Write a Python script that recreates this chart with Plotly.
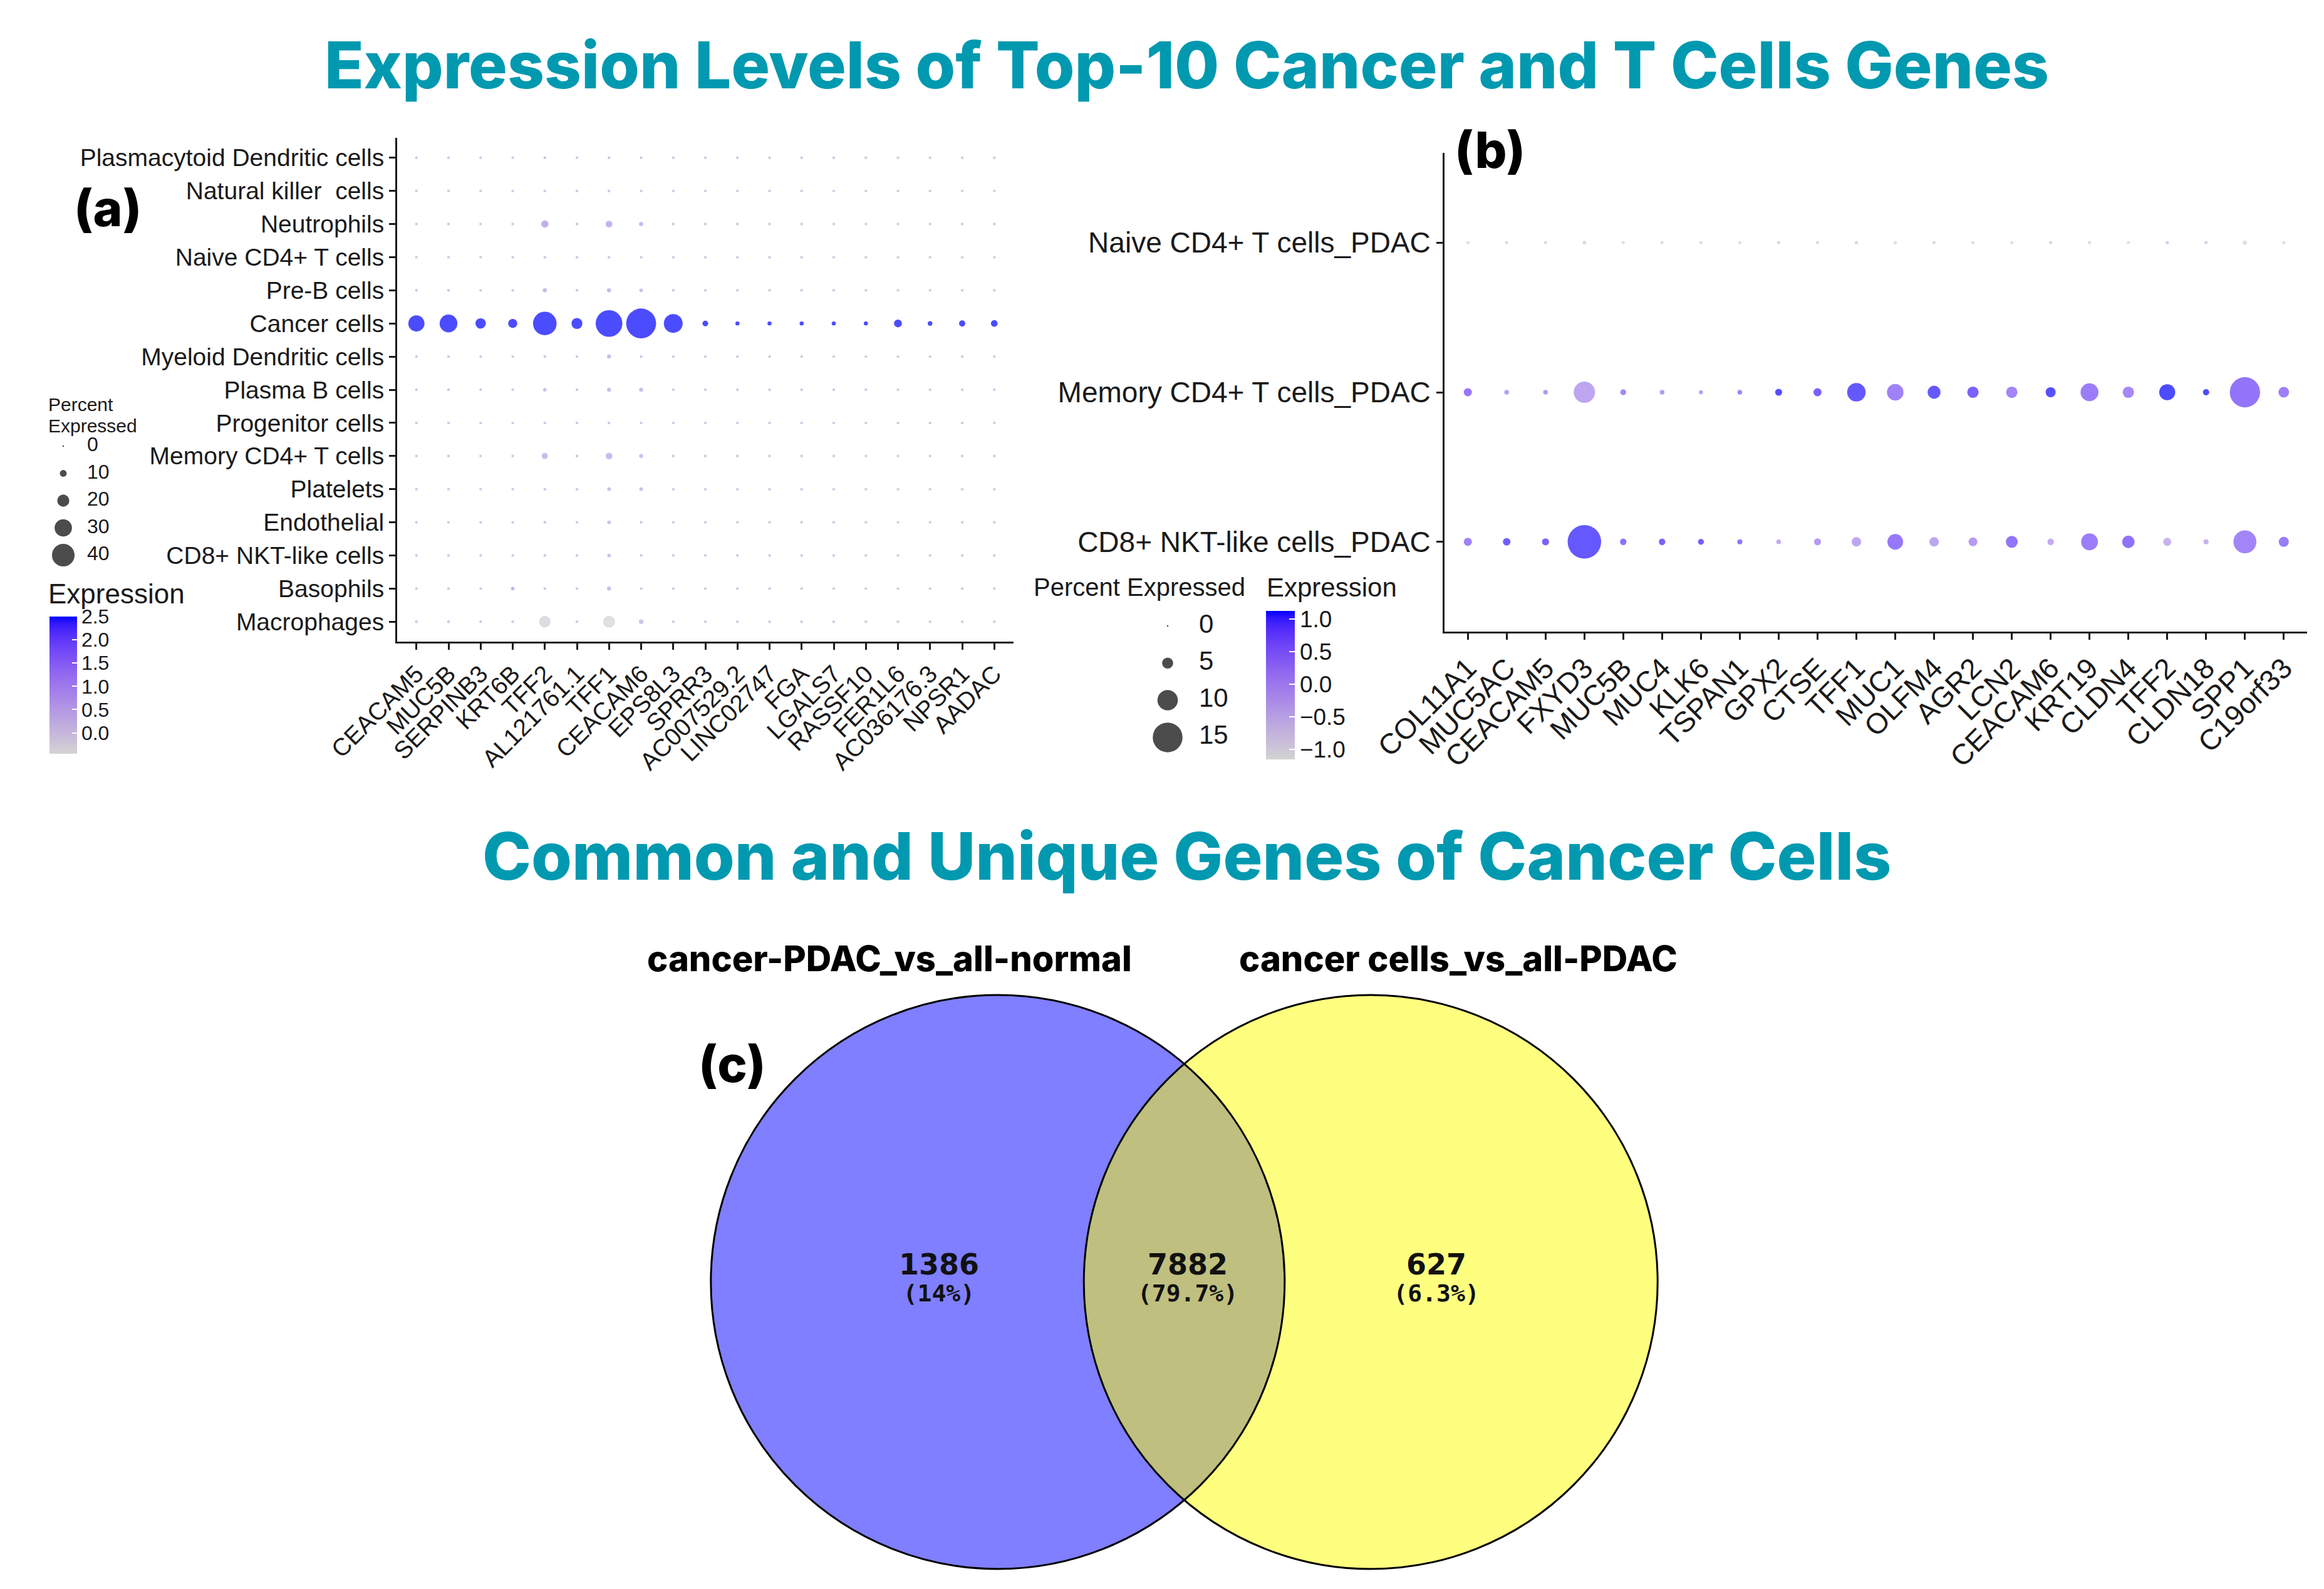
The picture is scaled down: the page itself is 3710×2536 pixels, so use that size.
import plotly.graph_objects as go

W, H = 3710, 2536

# ------------------------------------------------------------------ data
genes_a = ["CEACAM5", "MUC5B", "SERPINB3", "KRT6B", "TFF2", "AL121761.1", "TFF1",
           "CEACAM6", "EPS8L3", "SPRR3", "AC007529.2", "LINC02747", "FGA", "LGALS7",
           "RASSF10", "FER1L6", "AC036176.3", "NPSR1", "AADAC"]
cells_a = ["Plasmacytoid Dendritic cells", "Natural killer\u00a0 cells", "Neutrophils",
           "Naive CD4+ T cells", "Pre-B cells", "Cancer cells", "Myeloid Dendritic cells",
           "Plasma B cells", "Progenitor cells", "Memory CD4+ T cells", "Platelets",
           "Endothelial", "CD8+ NKT-like cells", "Basophils", "Macrophages"]

# percent expressed (rows follow cells_a, columns follow genes_a)
pct_a = [
    [0.4, 0.4, 0.4, 0.4, 0.6, 0.4, 0.6, 0.5, 0.4, 0.4, 0.4, 0.4, 0.4, 0.4, 0.4, 0.4, 0.4, 0.4, 0.4],
    [0.4, 0.4, 0.4, 0.4, 0.5, 0.4, 0.6, 0.4, 0.4, 0.4, 0.4, 0.4, 0.4, 0.4, 0.4, 0.4, 0.4, 0.4, 0.4],
    [0.5, 0.5, 0.4, 0.4, 9.0, 0.5, 8.0, 3.0, 0.5, 0.4, 0.4, 0.4, 0.4, 0.4, 0.4, 0.4, 0.4, 0.4, 0.4],
    [0.4, 0.4, 0.4, 0.4, 0.5, 0.4, 0.5, 0.4, 0.4, 0.4, 0.4, 0.4, 0.4, 0.4, 0.4, 0.4, 0.4, 0.4, 0.4],
    [0.5, 0.5, 0.4, 0.4, 3.0, 0.5, 3.0, 2.0, 0.5, 0.4, 0.4, 0.4, 0.4, 0.4, 0.4, 0.4, 0.4, 0.4, 0.4],
    [26.0, 29.0, 15.0, 12.5, 40.0, 16.0, 46.0, 52.0, 31.0, 6.0, 3.0, 3.0, 3.0, 3.0, 3.0, 10.0, 4.0, 7.0, 8.0],
    [0.4, 0.4, 0.4, 0.4, 0.6, 0.4, 3.0, 0.6, 0.4, 0.4, 0.4, 0.4, 0.4, 0.4, 0.4, 0.4, 0.4, 0.4, 0.4],
    [0.5, 0.5, 0.4, 0.4, 2.0, 0.5, 3.0, 3.0, 0.4, 0.4, 0.4, 0.4, 0.4, 0.4, 0.4, 0.4, 0.4, 0.4, 0.5],
    [0.4, 0.4, 0.4, 0.4, 0.5, 0.4, 0.6, 0.5, 0.4, 0.4, 0.4, 0.4, 0.4, 0.4, 0.4, 0.4, 0.4, 0.4, 0.4],
    [0.5, 0.5, 0.4, 0.4, 7.0, 0.5, 8.0, 3.0, 0.5, 0.4, 0.4, 0.4, 0.4, 0.4, 0.4, 0.4, 0.4, 0.4, 0.4],
    [0.4, 0.4, 0.4, 0.4, 0.6, 0.4, 2.0, 2.0, 0.4, 0.4, 0.4, 0.4, 0.4, 0.4, 0.4, 0.4, 0.4, 0.4, 0.4],
    [0.4, 0.4, 0.4, 0.4, 0.6, 0.4, 2.0, 0.6, 0.4, 0.4, 0.4, 0.4, 0.4, 0.4, 0.4, 0.4, 0.4, 0.4, 0.4],
    [0.4, 0.4, 0.4, 0.4, 0.6, 0.4, 2.0, 0.6, 0.4, 0.4, 0.4, 0.4, 0.4, 0.4, 0.4, 0.4, 0.4, 0.4, 0.4],
    [0.4, 0.4, 0.4, 2.0, 0.5, 0.4, 3.0, 0.5, 0.4, 0.4, 0.4, 0.4, 0.4, 0.4, 0.4, 0.4, 0.4, 0.4, 0.4],
    [1.0, 1.0, 0.4, 0.4, 17.0, 0.5, 18.0, 4.0, 0.4, 0.4, 0.4, 0.4, 0.4, 0.4, 0.4, 0.4, 0.4, 0.4, 0.4],
]
# scaled average expression
expr_a = [
    [0.08, 0.10, 0.10, 0.10, 0.15, 0.10, 0.15, 0.12, 0.10, 0.08, 0.10, 0.10, 0.10, 0.10, 0.08, 0.10, 0.10, 0.10, 0.08],
    [0.08, 0.10, 0.10, 0.10, 0.12, 0.10, 0.14, 0.10, 0.10, 0.08, 0.10, 0.10, 0.10, 0.10, 0.08, 0.10, 0.10, 0.10, 0.08],
    [0.15, 0.15, 0.10, 0.10, 0.70, 0.15, 0.60, 0.45, 0.15, 0.10, 0.10, 0.10, 0.10, 0.10, 0.10, 0.10, 0.10, 0.10, 0.10],
    [0.08, 0.10, 0.10, 0.10, 0.12, 0.10, 0.12, 0.10, 0.10, 0.08, 0.10, 0.10, 0.10, 0.10, 0.08, 0.10, 0.10, 0.10, 0.08],
    [0.15, 0.15, 0.10, 0.10, 0.45, 0.15, 0.45, 0.35, 0.15, 0.10, 0.10, 0.10, 0.10, 0.10, 0.10, 0.10, 0.10, 0.10, 0.10],
    [2.50, 2.50, 2.50, 2.50, 2.50, 2.50, 2.50, 2.50, 2.50, 2.50, 2.50, 2.50, 2.50, 2.50, 2.50, 2.50, 2.50, 2.50, 2.50],
    [0.10, 0.10, 0.10, 0.10, 0.15, 0.10, 0.35, 0.15, 0.10, 0.08, 0.10, 0.10, 0.10, 0.10, 0.08, 0.10, 0.10, 0.10, 0.08],
    [0.15, 0.15, 0.10, 0.10, 0.35, 0.15, 0.35, 0.35, 0.10, 0.10, 0.10, 0.10, 0.10, 0.10, 0.10, 0.10, 0.10, 0.10, 0.15],
    [0.08, 0.10, 0.10, 0.10, 0.14, 0.10, 0.15, 0.12, 0.10, 0.08, 0.10, 0.10, 0.10, 0.10, 0.08, 0.10, 0.10, 0.10, 0.08],
    [0.15, 0.15, 0.10, 0.10, 0.40, 0.15, 0.40, 0.30, 0.15, 0.10, 0.10, 0.10, 0.10, 0.10, 0.10, 0.10, 0.10, 0.10, 0.10],
    [0.10, 0.10, 0.10, 0.10, 0.15, 0.10, 0.30, 0.30, 0.10, 0.08, 0.10, 0.10, 0.10, 0.10, 0.08, 0.10, 0.10, 0.10, 0.08],
    [0.10, 0.10, 0.10, 0.10, 0.15, 0.10, 0.30, 0.15, 0.10, 0.08, 0.10, 0.10, 0.10, 0.10, 0.08, 0.10, 0.10, 0.10, 0.08],
    [0.10, 0.10, 0.10, 0.10, 0.15, 0.10, 0.30, 0.15, 0.10, 0.08, 0.10, 0.10, 0.10, 0.10, 0.08, 0.10, 0.10, 0.10, 0.08],
    [0.10, 0.10, 0.10, 0.55, 0.15, 0.10, 0.30, 0.15, 0.10, 0.08, 0.10, 0.10, 0.10, 0.10, 0.08, 0.10, 0.10, 0.10, 0.08],
    [0.05, 0.05, 0.10, 0.10, -0.35, 0.10, -0.45, 0.20, 0.10, 0.08, 0.10, 0.10, 0.10, 0.10, 0.08, 0.10, 0.10, 0.10, 0.08],
]

genes_b = ["COL11A1", "MUC5AC", "CEACAM5", "FXYD3", "MUC5B", "MUC4", "KLK6", "TSPAN1",
           "GPX2", "CTSE", "TFF1", "MUC1", "OLFM4", "AGR2", "LCN2", "CEACAM6", "KRT19",
           "CLDN4", "TFF2", "CLDN18", "SPP1", "C19orf33"]
cells_b = ["Naive CD4+ T cells_PDAC", "Memory CD4+ T cells_PDAC", "CD8+ NKT-like cells_PDAC"]
pct_b = [
    [0.4, 0.3, 0.3, 0.5, 0.3, 0.3, 0.3, 0.3, 0.3, 0.3, 0.4, 0.5, 0.3, 0.3, 0.4, 0.3, 0.5, 0.3, 0.4, 0.3, 0.9, 0.4],
    [3.0, 1.2, 1.2, 10.0, 1.8, 1.2, 0.8, 1.2, 2.4, 3.0, 8.5, 7.5, 5.6, 4.7, 4.7, 4.0, 8.2, 4.7, 7.2, 2.0, 14.8, 4.3],
    [3.0, 2.7, 2.4, 16.5, 2.1, 2.1, 1.8, 1.4, 1.2, 2.4, 3.7, 7.0, 3.7, 3.4, 5.0, 2.1, 7.6, 5.3, 3.0, 1.4, 10.9, 4.0],
]
expr_b = [
    [-1.150, -1.000, -1.040, -0.940, -1.135, -1.040, -1.000, -1.140, -0.854, -1.040, -0.940,
     -1.150, -0.940, -1.040, -1.146, -0.854, -1.155, -1.138, -0.771, -0.803, -1.140, -1.150],
    [0.650, 0.000, 0.090, -0.110, 0.385, 0.090, 0.000, 0.440, 1.100, 0.950, 1.050,
     0.500, 1.050, 0.950, 0.450, 1.100, 0.577, 0.400, 1.130, 1.120, 0.700, 0.550],
    [0.500, 1.000, 0.950, 1.050, 0.750, 0.950, 1.000, 0.700, -0.246, 0.090, -0.110,
     0.650, -0.110, 0.090, 0.696, -0.246, 0.577, 0.738, -0.359, -0.317, 0.440, 0.600],
]

size_breaks_a = [0, 10, 20, 30, 40]
size_breaks_b = [0, 5, 10, 15]
cbar_ticks_a = [0.0, 0.5, 1.0, 1.5, 2.0, 2.5]
cbar_ticks_b = [-1.0, -0.5, 0.0, 0.5, 1.0]

venn_sets = ["cancer-PDAC_vs_all-normal", "cancer cells_vs_all-PDAC"]
venn_counts = [1386, 7882, 627]
venn_pcts = ["14%", "79.7%", "6.3%"]

# ------------------------------------------------------------------ helpers
def px(x):
    return x / W


def py(y):
    return 1 - y / H


def _lin(c):
    c = c / 255.0
    return c / 12.92 if c <= 0.04045 else ((c + 0.055) / 1.055) ** 2.4


def _gam(c):
    c = 12.92 * c if c <= 0.0031308 else 1.055 * c ** (1 / 2.4) - 0.055
    return min(1.0, max(0.0, c))


def rgb2lab(rgb):
    r, g, b = (_lin(v) for v in rgb)
    X = (0.4124564 * r + 0.3575761 * g + 0.1804375 * b) / 0.95047
    Y = 0.2126729 * r + 0.7151522 * g + 0.0721750 * b
    Z = (0.0193339 * r + 0.1191920 * g + 0.9503041 * b) / 1.08883
    f = lambda t: t ** (1 / 3) if t > 0.008856 else 7.787 * t + 16 / 116
    return (116 * f(Y) - 16, 500 * (f(X) - f(Y)), 200 * (f(Y) - f(Z)))


def lab2rgb(lab):
    L, a, b = lab
    fy = (L + 16) / 116
    fx, fz = fy + a / 500, fy - b / 200
    finv = lambda t: t ** 3 if t ** 3 > 0.008856 else (t - 16 / 116) / 7.787
    X, Y, Z = 0.95047 * finv(fx), finv(fy), 1.08883 * finv(fz)
    r = 3.2404542 * X - 1.5371385 * Y - 0.4985314 * Z
    g = -0.9692660 * X + 1.8760108 * Y + 0.0415560 * Z
    bb = 0.0556434 * X - 0.2040259 * Y + 1.0572252 * Z
    return tuple(int(round(255 * _gam(v))) for v in (r, g, bb))


def lab_scale(low, high, n=21):
    l1, l2 = rgb2lab(low), rgb2lab(high)
    out = []
    for i in range(n):
        t = i / (n - 1)
        c = lab2rgb(tuple(l1[k] + (l2[k] - l1[k]) * t for k in range(3)))
        out.append([t, "rgb(%d,%d,%d)" % c])
    return out


CSCALE = lab_scale((211, 211, 211), (0, 0, 255))
AXFONT = "Liberation Sans, Arial, sans-serif"
TITLEFONT = "Inter, Lato, sans-serif"
TEAL = "#0099b0"
TXT = "#1a1a1a"


def size_a(p):
    return 4.0 + 0.84 * p


def size_b(p):
    return 4.0 + 3.0 * p


fig = go.Figure()

# ------------------------------------------------------------------ panel (a)
xa, ya, sa, ca = [], [], [], []
for i, cell in enumerate(cells_a):
    for j, gene in enumerate(genes_a):
        xa.append(gene)
        ya.append(cell)
        sa.append(size_a(pct_a[i][j]))
        ca.append(expr_a[i][j])
fig.add_trace(go.Scatter(x=xa, y=ya, mode="markers", xaxis="x", yaxis="y",
                         marker=dict(size=sa, color=ca, coloraxis="coloraxis",
                                     line=dict(width=0)),
                         showlegend=False, hoverinfo="skip", cliponaxis=False))

# ------------------------------------------------------------------ panel (b)
xb, yb, sb, cb = [], [], [], []
for i, cell in enumerate(cells_b):
    for j, gene in enumerate(genes_b):
        xb.append(gene)
        yb.append(cell)
        sb.append(size_b(pct_b[i][j]))
        cb.append(expr_b[i][j])
fig.add_trace(go.Scatter(x=xb, y=yb, mode="markers", xaxis="x2", yaxis="y2",
                         marker=dict(size=sb, color=cb, coloraxis="coloraxis2",
                                     line=dict(width=0)),
                         showlegend=False, hoverinfo="skip", cliponaxis=False))

# ------------------------------------------------------------------ size legends (pixel overlay axis)
leg_a_y0, leg_a_dy, leg_a_x, leg_a_tx = 704, 43.5, 93, 131
ys_a = [leg_a_y0 + k * leg_a_dy for k in range(len(size_breaks_a))]
fig.add_trace(go.Scatter(
    x=[leg_a_x] * len(size_breaks_a), y=ys_a, mode="markers",
    marker=dict(size=[size_a(v) - 1.5 for v in size_breaks_a], color="black", line=dict(width=0)),
    xaxis="x3", yaxis="y3", showlegend=False, hoverinfo="skip", cliponaxis=False))
fig.add_trace(go.Scatter(
    x=[leg_a_tx] * len(size_breaks_a), y=ys_a, mode="text",
    text=[str(v) for v in size_breaks_a], textposition="middle right",
    textfont=dict(family=AXFONT, size=32, color=TXT),
    xaxis="x3", yaxis="y3", showlegend=False, hoverinfo="skip", cliponaxis=False))

leg_b_y0, leg_b_dy, leg_b_x, leg_b_tx = 991, 59.3, 1856, 1906
ys_b = [leg_b_y0 + k * leg_b_dy for k in range(len(size_breaks_b))]
fig.add_trace(go.Scatter(
    x=[leg_b_x] * len(size_breaks_b), y=ys_b, mode="markers",
    marker=dict(size=[size_b(v) - 1.5 for v in size_breaks_b], color="black", line=dict(width=0)),
    xaxis="x3", yaxis="y3", showlegend=False, hoverinfo="skip", cliponaxis=False))
fig.add_trace(go.Scatter(
    x=[leg_b_tx] * len(size_breaks_b), y=ys_b, mode="text",
    text=[str(v) for v in size_breaks_b], textposition="middle right",
    textfont=dict(family=AXFONT, size=42, color=TXT),
    xaxis="x3", yaxis="y3", showlegend=False, hoverinfo="skip", cliponaxis=False))

# ------------------------------------------------------------------ Venn diagram (c)
VC_X, VC_Y, VR = 1882.5, 2038.0, 458.0   # pixel centre / radius unit
SEP = 1.30                                # centre distance in radius units
vx0, vx1, vy0, vy1 = 1000, 2765, 1560, 2530
fig.add_trace(go.Scatter(
    x=[-0.855, 0.012, 0.879], y=[0.052] * 3, mode="text",
    text=[str(v) for v in venn_counts],
    textfont=dict(family="DejaVu Sans, sans-serif", size=46, color="#111111", weight="bold"),
    xaxis="x4", yaxis="y4", showlegend=False, hoverinfo="skip"))
fig.add_trace(go.Scatter(
    x=[-0.855, 0.012, 0.879], y=[-0.048] * 3, mode="text",
    text=["(%s)" % v for v in venn_pcts],
    textfont=dict(family="DejaVu Sans Mono, monospace", size=38, color="#111111", weight="bold"),
    xaxis="x4", yaxis="y4", showlegend=False, hoverinfo="skip"))

shapes = [
    dict(type="circle", xref="x4", yref="y4", x0=-SEP / 2 - 1, x1=-SEP / 2 + 1, y0=-1, y1=1,
         fillcolor="rgba(0,0,255,0.5)", line=dict(width=0), layer="below"),
    dict(type="circle", xref="x4", yref="y4", x0=SEP / 2 - 1, x1=SEP / 2 + 1, y0=-1, y1=1,
         fillcolor="rgba(255,255,0,0.5)", line=dict(width=0), layer="below"),
    dict(type="circle", xref="x4", yref="y4", x0=-SEP / 2 - 1, x1=-SEP / 2 + 1, y0=-1, y1=1,
         fillcolor="rgba(0,0,0,0)", line=dict(width=3, color="black"), layer="below"),
    dict(type="circle", xref="x4", yref="y4", x0=SEP / 2 - 1, x1=SEP / 2 + 1, y0=-1, y1=1,
         fillcolor="rgba(0,0,0,0)", line=dict(width=3, color="black"), layer="below"),
]

# ------------------------------------------------------------------ annotations
def ann(text, x, y, size, family=AXFONT, color=TXT, xanchor="center",
        yanchor="middle", weight="normal"):
    return dict(text=text, x=px(x), y=py(y), xref="paper", yref="paper",
                xanchor=xanchor, yanchor=yanchor, showarrow=False,
                font=dict(family=family, size=size, color=color, weight=weight))


annotations = [
    ann("Expression Levels of Top-10 Cancer and T Cells Genes", 1887, 96, 103,
        TITLEFONT, TEAL, weight=800),
    ann("Common and Unique Genes of Cancer Cells", 1887, 1357, 105,
        TITLEFONT, TEAL, weight=800),
    ann("(a)", 164, 324, 80, TITLEFONT, "black", weight=800),
    ann("(b)", 2370, 231, 80, TITLEFONT, "black", weight=800),
    ann("(c)", 1160, 1689, 80, TITLEFONT, "black", weight=800),
    ann(venn_sets[0], 1412, 1522, 56, TITLEFONT, "black", weight=800),
    ann(venn_sets[1], 2320, 1522, 56, TITLEFONT, "black", weight=800),
    # legend titles (a)
    ann("Percent", 67, 637, 30, xanchor="left"),
    ann("Expressed", 67, 671, 30, xanchor="left"),
    ann("Expression", 67, 939, 44, xanchor="left"),
    # legend titles (b)
    ann("Percent Expressed", 1640, 929, 40, xanchor="left"),
    ann("Expression", 2012, 929, 42, xanchor="left"),
]

# ------------------------------------------------------------------ layout
axis_common = dict(showline=True, linecolor=TXT, linewidth=3, ticks="outside",
                   ticklen=10, tickwidth=3, tickcolor=TXT, showgrid=False,
                   zeroline=False, automargin=False, type="category", fixedrange=True)

fig.update_layout(
    width=W, height=H, plot_bgcolor="rgba(0,0,0,0)", paper_bgcolor="white",
    margin=dict(l=0, r=0, t=0, b=0), showlegend=False,
    xaxis=dict(**axis_common, domain=[px(626), px(1610)], anchor="y",
               categoryorder="array", categoryarray=genes_a,
               range=[-0.6, len(genes_a) - 0.4], tickangle=-45,
               tickfont=dict(family=AXFONT, size=39, color=TXT)),
    yaxis=dict(**axis_common, domain=[py(1016), py(212)], anchor="x",
               categoryorder="array", categoryarray=cells_a,
               range=[len(cells_a) - 0.4, -0.6],
               tickfont=dict(family=AXFONT, size=39, color=TXT)),
    xaxis2=dict(**axis_common, domain=[px(2298), px(3675)], anchor="y2",
                categoryorder="array", categoryarray=genes_b,
                range=[-0.6, len(genes_b) - 0.4], tickangle=-45,
                tickfont=dict(family=AXFONT, size=46, color=TXT)),
    yaxis2=dict(**axis_common, domain=[py(1000), py(236)], anchor="x2",
                categoryorder="array", categoryarray=cells_b,
                range=[len(cells_b) - 0.4, -0.6],
                tickfont=dict(family=AXFONT, size=46, color=TXT)),
    xaxis3=dict(domain=[0, 1], range=[0, W], visible=False, anchor="y3", fixedrange=True),
    yaxis3=dict(domain=[0, 1], range=[H, 0], visible=False, anchor="x3", fixedrange=True),
    xaxis4=dict(domain=[px(vx0), px(vx1)], range=[(vx0 - VC_X) / VR, (vx1 - VC_X) / VR],
                visible=False, anchor="y4", fixedrange=True),
    yaxis4=dict(domain=[py(vy1), py(vy0)], range=[-(vy1 - VC_Y) / VR, (VC_Y - vy0) / VR],
                visible=False, anchor="x4", fixedrange=True),
    coloraxis=dict(
        colorscale=CSCALE, cmin=min(min(r) for r in expr_a), cmax=max(max(r) for r in expr_a),
        colorbar=dict(x=px(71), xanchor="left", y=py(976), yanchor="top",
                      len=219, lenmode="pixels", thickness=44, thicknessmode="pixels",
                      xpad=0, ypad=0, outlinewidth=0, tickvals=cbar_ticks_a,
                      tickformat=".1f", ticks="inside", ticklen=8, tickwidth=2,
                      tickcolor="white",
                      tickfont=dict(family=AXFONT, size=32, color=TXT))),
    coloraxis2=dict(
        colorscale=CSCALE, cmin=min(min(r) for r in expr_b), cmax=max(max(r) for r in expr_b),
        colorbar=dict(x=px(2013), xanchor="left", y=py(967), yanchor="top",
                      len=237, lenmode="pixels", thickness=46, thicknessmode="pixels",
                      xpad=0, ypad=0, outlinewidth=0, tickvals=cbar_ticks_b,
                      tickformat=".1f", ticks="inside", ticklen=9, tickwidth=2,
                      tickcolor="white",
                      tickfont=dict(family=AXFONT, size=37, color=TXT))),
    shapes=shapes,
    annotations=annotations,
)

fig.write_html("out.html")
